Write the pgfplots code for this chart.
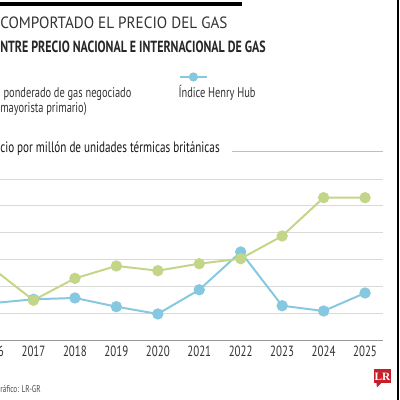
\documentclass[border=0pt]{standalone}
\usepackage{pgfplots}
\pgfplotsset{compat=1.18}
\usepackage{fontspec}
\setmainfont{PT Sans}
\newfontfamily\titlefont[FakeStretch=0.93]{PT Sans}
\newfontfamily\condfont[FakeStretch=0.74]{PT Sans}
\newfontfamily\seriffont{Liberation Serif}
\definecolor{hhblue}{HTML}{86C8E0}
\definecolor{gasgreen}{HTML}{C3D688}
\definecolor{txt}{HTML}{333333}
\definecolor{lrred}{HTML}{C8202A}
\begin{document}
\begin{tikzpicture}
\useasboundingbox (0,0) rectangle (10,10);
\clip (0,0) rectangle (10,10);
\fill[white] (0,0) rectangle (10,10);
\begin{axis}[
  at={(-0.7175cm,1.4925cm)}, anchor=south west,
  scale only axis, width=10.3cm, height=4.0325cm,
  xmin=2015.5, xmax=2025.44, ymin=0, ymax=12,
  separate axis lines,
  axis x line*=bottom, axis y line*=left,
  y axis line style={draw=none},
  x axis line style={draw=black!40, line width=0.7pt, -},
  major tick length=0pt,
  xtick={2016,...,2025},
  xticklabels={2016,2017,2018,2019,2020,2021,2022,2023,2024,2025},
  xticklabel style={font=\condfont\fontsize{10.5}{10.5}\selectfont, text=txt, yshift=-0.5pt},
  ytick={2,4,...,12}, yticklabels={},
  ymajorgrids, major grid style={draw=black!15, line width=0.6pt},
  clip=false,
]
\addplot[color=hhblue, line width=1.4pt, mark=*, mark size=3.3pt,
  mark options={fill=hhblue, draw=none}] coordinates {
  (2016,2.76) (2017,3.05) (2018,3.15) (2019,2.50) (2020,1.96)
  (2021,3.76) (2022,6.57) (2023,2.57) (2024,2.18) (2025,3.52)};
\addplot[color=gasgreen, line width=1.4pt, mark=*, mark size=3.3pt,
  mark options={fill=gasgreen, draw=none}] coordinates {
  (2016,5.38) (2017,2.98) (2018,4.61) (2019,5.53) (2020,5.18)
  (2021,5.70) (2022,6.07) (2023,7.76) (2024,10.61) (2025,10.61)};
\end{axis}
\begin{scope}[shift={(0,10)}, x=0.025cm, y=-0.025cm]
  \fill[black] (0,1.7) rectangle (242,5.7);
  \fill[black] (397.3,0) rectangle (399.3,400);
  \node[anchor=base west, inner sep=0, text=txt, font=\titlefont\fontsize{11.6}{11.6}\selectfont] at (0,28.3) {COMPORTADO EL PRECIO DEL GAS};
  \node[anchor=base west, inner sep=0, text=black!85, font=\condfont\bfseries\fontsize{11.5}{11.5}\selectfont] at (0,52.7) {NTRE PRECIO NACIONAL E INTERNACIONAL DE GAS};
  \draw[hhblue, line width=1.4pt] (180,77) -- (207,77);
  \fill[hhblue] (193.5,77) circle (3.3pt);
  \node[anchor=base west, inner sep=0, text=txt, font=\condfont\fontsize{10}{10}\selectfont] at (3.3,97.3) {ponderado de gas negociado};
  \node[anchor=base west, inner sep=0, text=txt, font=\condfont\fontsize{10}{10}\selectfont] at (0,112.3) {mayorista primario)};
  \node[anchor=base west, inner sep=0, text=txt, font=\condfont\fontsize{10}{10}\selectfont] at (178.3,97.3) {Índice Henry Hub};
  \node[anchor=base west, inner sep=0, text=black!90, font=\condfont\fontsize{10.7}{10.7}\selectfont] at (0,152.7) {cio por millón de unidades térmicas británicas};
  \draw[black!25, line width=0.6pt] (231.7,151.7) -- (383.3,151.7);
  \node[anchor=base west, inner sep=0, text=black!70, font=\condfont\fontsize{7}{7}\selectfont] at (0,392.5) {ráfico: LR-GR};
  \fill[lrred] (374.3,369.3) rectangle (390.7,383.3);
  \fill[lrred] (376.5,383) -- (381.5,383) -- (377,387.5) -- cycle;
  \node[inner sep=0, text=white, font=\seriffont\bfseries\fontsize{8}{8}\selectfont] at (382.5,376.5) {LR};
\end{scope}
\end{tikzpicture}
\end{document}
